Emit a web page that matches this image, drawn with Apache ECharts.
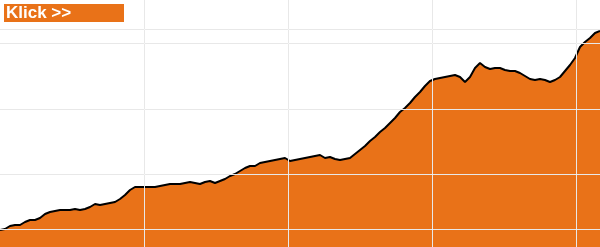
<!DOCTYPE html>
<html>
<head>
<meta charset="utf-8">
<script src="https://cdn.jsdelivr.net/npm/echarts@6/dist/echarts.min.js"></script>
<style>html,body{margin:0;padding:0;background:#fff}#c{width:600px;height:247px}</style>
</head>
<body>
<div id="c"></div>
<script>
// Index values, equally spaced in time over 50 months
const values = [1170,1180,1210,1220,1220,1250,1270,1270,1290,1330,1350,1360,1370,1370,1370,1380,1370,1380,1400,1430,1420,1430,1440,1450,1480,1520,1570,1600,1600,1600,1600,1600,1610,1620,1630,1630,1630,1640,1650,1640,1630,1650,1660,1640,1660,1680,1710,1730,1760,1790,1810,1810,1840,1850,1860,1870,1880,1890,1860,1870,1880,1890,1900,1910,1920,1890,1900,1880,1870,1880,1890,1930,1970,2010,2060,2100,2150,2190,2240,2290,2350,2390,2440,2500,2550,2610,2660,2680,2690,2700,2710,2720,2700,2650,2700,2790,2840,2800,2780,2790,2790,2770,2760,2760,2740,2710,2680,2670,2680,2670,2650,2670,2700,2760,2820,2890,3000,3050,3090,3140,3160];
const xMax = 50;
const xGridLines = [12, 24, 36, 48];
const yGridLines = [1180, 1730, 2380, 3040, 3180];
const yMin = 1000, yMax = 3470;

const step = xMax / (values.length - 1);
const data = values.map((v, i) => [i * step, v]);

const chart = echarts.init(document.getElementById('c'), null, {renderer: 'canvas'});
const hLines = (color) => yGridLines.map(v => ({yAxis: v, lineStyle: {color: color, width: 1, type: 'solid'}}));
const vLines = (color) => xGridLines.map(v => ({xAxis: v, lineStyle: {color: color, width: 1, type: 'solid'}}));

chart.setOption({
  animation: false,
  grid: {left: 0, right: 0, top: 0, bottom: 0},
  xAxis: {type: 'value', min: 0, max: xMax, axisLine: {show: false}, axisTick: {show: false}, axisLabel: {show: false}, splitLine: {show: false}},
  yAxis: {type: 'value', min: yMin, max: yMax, axisLine: {show: false}, axisTick: {show: false}, axisLabel: {show: false}, splitLine: {show: false}},
  series: [
    {
      type: 'line', data: [], z: 1, silent: true,
      markLine: {silent: true, symbol: 'none', label: {show: false}, animation: false,
        data: hLines('#d6d6d6').concat(vLines('#d6d6d6'))}
    },
    {
      type: 'line', data: data, z: 2, symbol: 'none', smooth: false,
      lineStyle: {width: 0, opacity: 0},
      areaStyle: {color: '#E97218', opacity: 1}
    },
    {
      type: 'line', data: [], z: 3, silent: true,
      markLine: {silent: true, symbol: 'none', label: {show: false}, animation: false,
        data: hLines('rgba(255,255,255,0.45)').concat(vLines('rgba(255,255,255,0.45)'))}
    },
    {
      type: 'line', data: data, z: 4, symbol: 'none', smooth: false,
      lineStyle: {color: '#000', width: 2}
    }
  ],
  graphic: [
    {type: 'rect', shape: {x: 4, y: 4, width: 120, height: 18}, style: {fill: '#E97218'}, z: 10},
    {type: 'text', x: 6, y: 13, style: {text: 'Klick >>', fill: '#fff', font: 'bold 17px "Liberation Sans", Arial, sans-serif', textVerticalAlign: 'middle'}, z: 11}
  ]
});
</script>
</body>
</html>
